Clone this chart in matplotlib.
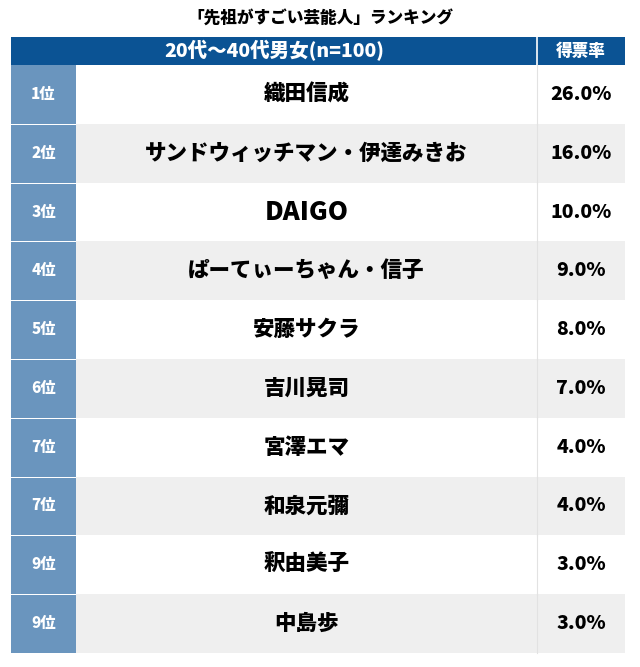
import matplotlib
matplotlib.use("Agg")
import matplotlib.pyplot as plt
from matplotlib.patches import Rectangle

plt.rcParams['font.family'] = ['Noto Sans CJK JP', 'DejaVu Sans']

# data
title = "「先祖がすごい芸能人」ランキング"
header_main = "20代〜40代男女(n=100)"
header_value = "得票率"
ranks = ["1位", "2位", "3位", "4位", "5位", "6位", "7位", "7位", "9位", "9位"]
names = ["織田信成", "サンドウィッチマン・伊達みきお", "DAIGO", "ぱーてぃーちゃん・信子",
         "安藤サクラ", "吉川晃司", "宮澤エマ", "和泉元彌", "釈由美子", "中島歩"]
rates = [26.0, 16.0, 10.0, 9.0, 8.0, 7.0, 4.0, 4.0, 3.0, 3.0]

# colours
header_blue = "#0b5394"
rank_blue = "#6a95be"
row_gray = "#efefef"

W, H = 640, 667
fig = plt.figure(figsize=(W / 100, H / 100), dpi=100)
ax = fig.add_axes([0, 0, 1, 1])
ax.set_xlim(0, W)
ax.set_ylim(H, 0)
ax.axis("off")

# table layout (pixels)
left, right = 11, 625
rank_right = 76
val_left = 537
head_top, head_bot = 37, 65
row_h = 58.8
bold = "heavy"

ax.text(W / 2, 18, title, ha="center", va="center", fontsize=12, fontweight=bold)

# header
ax.add_patch(Rectangle((left, head_top), right - left, head_bot - head_top, color=header_blue, lw=0))
ax.plot([val_left, val_left], [head_top, head_bot], color="white", lw=1.2)
ax.text((left + val_left) / 2, (head_top + head_bot) / 2, header_main, ha="center", va="center",
        color="white", fontsize=14, fontweight=bold)
ax.text((val_left + right) / 2, (head_top + head_bot) / 2, header_value, ha="center", va="center",
        color="white", fontsize=12, fontweight=bold)

for i, (rk, nm, rt) in enumerate(zip(ranks, names, rates)):
    y0 = head_bot + i * row_h
    yc = y0 + row_h / 2
    bg = "white" if i % 2 == 0 else row_gray
    ax.add_patch(Rectangle((rank_right, y0), right - rank_right, row_h, color=bg, lw=0))
    ax.add_patch(Rectangle((left, y0 + (1 if i > 0 else 0)), rank_right - left,
                           row_h - (1 if i > 0 else 0), color=rank_blue, lw=0))
    ax.plot([val_left, val_left], [y0, y0 + row_h], color="#e2e2e2", lw=0.8)
    ax.text((left + rank_right) / 2, yc, rk, ha="center", va="center", color="white",
            fontsize=11, fontweight=bold)
    name_size = 18.5 if nm.isascii() else 15.5
    ax.text((rank_right + val_left) / 2, yc, nm, ha="center", va="center", color="black",
            fontsize=name_size, fontweight=bold)
    ax.text((val_left + right) / 2, yc, f"{rt:.1f}%", ha="center", va="center", color="black",
            fontsize=14, fontweight=bold)

fig.savefig("out.png", dpi=100, facecolor="white")
